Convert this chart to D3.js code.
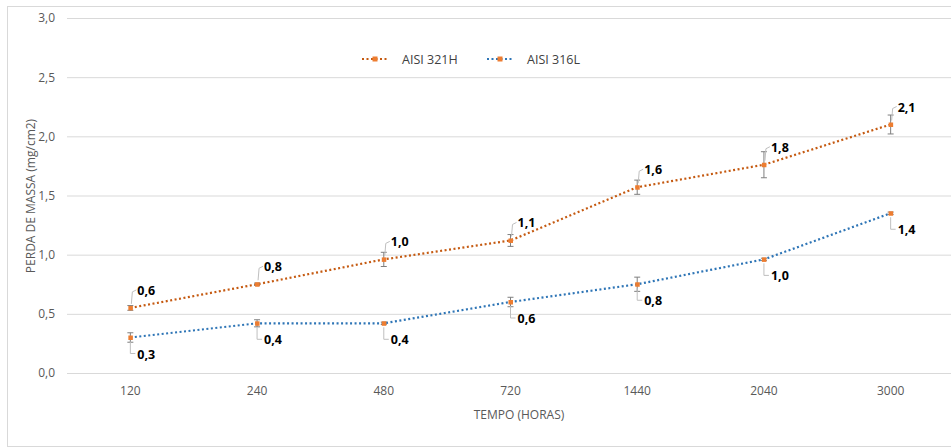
<html>
<head>
  <script src="https://d3js.org/d3.v7.min.js"></script>
  <style>
    body { margin: 0; background: #fff; }
    text { font-family: "Open Sans", "Noto Sans", sans-serif; }
  </style>
</head>
<body>
  <div id="chart"></div>
  <script>
    // values
    var categories = ["120", "240", "480", "720", "1440", "2040", "3000"];
    var yTicks = [0, 0.5, 1.0, 1.5, 2.0, 2.5, 3.0];
    var seriesNames = ["AISI 321H", "AISI 316L"];
    var aisi321h = [0.55, 0.75, 0.96, 1.12, 1.57, 1.76, 2.10];
    var aisi321hErr = [0.02, 0.01, 0.06, 0.05, 0.06, 0.11, 0.08];
    var aisi316l = [0.30, 0.42, 0.42, 0.60, 0.75, 0.96, 1.35];
    var aisi316lErr = [0.04, 0.03, 0.01, 0.04, 0.06, 0.01, 0.01];

    var W = 951, H = 448;
    var margin = {top: 18, right: -3, bottom: 75, left: 67};
    var width = W - margin.left - margin.right;
    var height = H - margin.top - margin.bottom;

    var svg = d3.select('#chart').append('svg')
      .attr('width', W).attr('height', H);

    svg.append('rect')
      .attr('x', 7.5).attr('y', 6.5)
      .attr('width', W).attr('height', H - 8)
      .attr('fill', 'none').attr('stroke', '#d9d9d9');

    var g = svg.append('g')
      .attr('transform', 'translate(' + margin.left + ',' + margin.top + ')');

    var x = d3.scaleBand().domain(categories).range([0, width]);
    var y = d3.scaleLinear().domain([0, 3]).range([height, 0]);
    var fmt = function(v) { return d3.format('.1f')(v).replace('.', ','); };

    // gridlines
    g.append('g').selectAll('line').data(yTicks).enter().append('line')
      .attr('x1', 0).attr('x2', width)
      .attr('y1', function(d) { return y(d) + 0.5; })
      .attr('y2', function(d) { return y(d) + 0.5; })
      .attr('stroke', '#d9d9d9').attr('stroke-width', 1);

    // axis labels
    var yAxis = d3.axisLeft(y).tickValues(yTicks).tickFormat(fmt).tickSize(0).tickPadding(12);
    g.append('g').call(yAxis)
      .call(function(a) { a.select('.domain').remove(); })
      .selectAll('text')
        .attr('fill', '#595959').style('font-size', '12px');

    var xAxis = d3.axisBottom(x).tickSize(0).tickPadding(13);
    g.append('g').attr('transform', 'translate(0,' + height + ')').call(xAxis)
      .call(function(a) { a.select('.domain').remove(); })
      .selectAll('text')
        .attr('fill', '#595959').style('font-size', '12px');

    // axis titles
    svg.append('text')
      .attr('transform', 'translate(35,196) rotate(-90)')
      .attr('text-anchor', 'middle').attr('fill', '#595959')
      .style('font-size', '12px')
      .text('PERDA DE MASSA (mg/cm2)');
    svg.append('text')
      .attr('x', 519).attr('y', 419)
      .attr('text-anchor', 'middle').attr('fill', '#595959')
      .style('font-size', '12px')
      .text('TEMPO (HORAS)');

    var cx = function(i) { return x(categories[i]) + x.bandwidth() / 2; };

    var series = [
      {name: seriesNames[0], values: aisi321h, err: aisi321hErr, color: '#C55A11', up: true},
      {name: seriesNames[1], values: aisi316l, err: aisi316lErr, color: '#2E75B6', up: false}
    ];

    var line = d3.line()
      .x(function(d, i) { return cx(i); })
      .y(function(d) { return y(d); });

    series.forEach(function(s) {
      g.append('path').datum(s.values)
        .attr('d', line)
        .attr('fill', 'none').attr('stroke', s.color)
        .attr('stroke-width', 2.2)
        .attr('stroke-dasharray', '2,2.5');

      // error bars
      var eb = g.append('g').selectAll('g').data(s.values).enter().append('g');
      eb.append('line')
        .attr('x1', function(d, i) { return cx(i); })
        .attr('x2', function(d, i) { return cx(i); })
        .attr('y1', function(d, i) { return y(d + s.err[i]); })
        .attr('y2', function(d, i) { return y(d - s.err[i]); })
        .attr('stroke', '#7f7f7f').attr('stroke-width', 1);
      ['+', '-'].forEach(function(sign) {
        eb.append('line')
          .attr('x1', function(d, i) { return cx(i) - 3; })
          .attr('x2', function(d, i) { return cx(i) + 3; })
          .attr('y1', function(d, i) { return y(sign === '+' ? d + s.err[i] : d - s.err[i]); })
          .attr('y2', function(d, i) { return y(sign === '+' ? d + s.err[i] : d - s.err[i]); })
          .attr('stroke', '#7f7f7f').attr('stroke-width', 1);
      });

      // markers
      g.append('g').selectAll('rect').data(s.values).enter().append('rect')
        .attr('x', function(d, i) { return cx(i) - 2; })
        .attr('y', function(d) { return y(d) - 2; })
        .attr('width', 4.5).attr('height', 4.5)
        .attr('fill', '#ED7D31');

      // leader lines and labels
      var lab = g.append('g').selectAll('g').data(s.values).enter().append('g');
      lab.append('path')
        .attr('d', function(d, i) {
          var px = cx(i), py = y(d);
          if (s.up) {
            return 'M' + (px + 1) + ',' + (py - 4) + 'L' + (px + 2) + ',' + (py - 16) + 'L' + (px + 6) + ',' + (py - 18);
          }
          return 'M' + px + ',' + (py + 4) + 'L' + px + ',' + (py + 16) + 'L' + (px + 5) + ',' + (py + 16);
        })
        .attr('fill', 'none').attr('stroke', '#bfbfbf').attr('stroke-width', 1);
      lab.append('text')
        .attr('x', function(d, i) { return cx(i) + 7; })
        .attr('y', function(d) { return y(d) + (s.up ? -13 : 21); })
        .attr('fill', '#000').style('font-size', '12.5px').style('font-weight', 'bold')
        .text(function(d) { return fmt(d); });
    });

    // legend
    var legend = svg.append('g');
    var lx = [362, 487];
    series.forEach(function(s, k) {
      legend.append('line')
        .attr('x1', lx[k]).attr('x2', lx[k] + 26)
        .attr('y1', 59).attr('y2', 59)
        .attr('stroke', s.color).attr('stroke-width', 2.2)
        .attr('stroke-dasharray', '2,2.5');
      legend.append('rect')
        .attr('x', lx[k] + 10.5).attr('y', 56.5).attr('width', 5).attr('height', 5)
        .attr('fill', '#ED7D31');
      legend.append('text')
        .attr('x', lx[k] + 40).attr('y', 63.5)
        .attr('fill', '#404040').style('font-size', '12.5px')
        .text(s.name);
    });
  </script>
</body>
</html>
